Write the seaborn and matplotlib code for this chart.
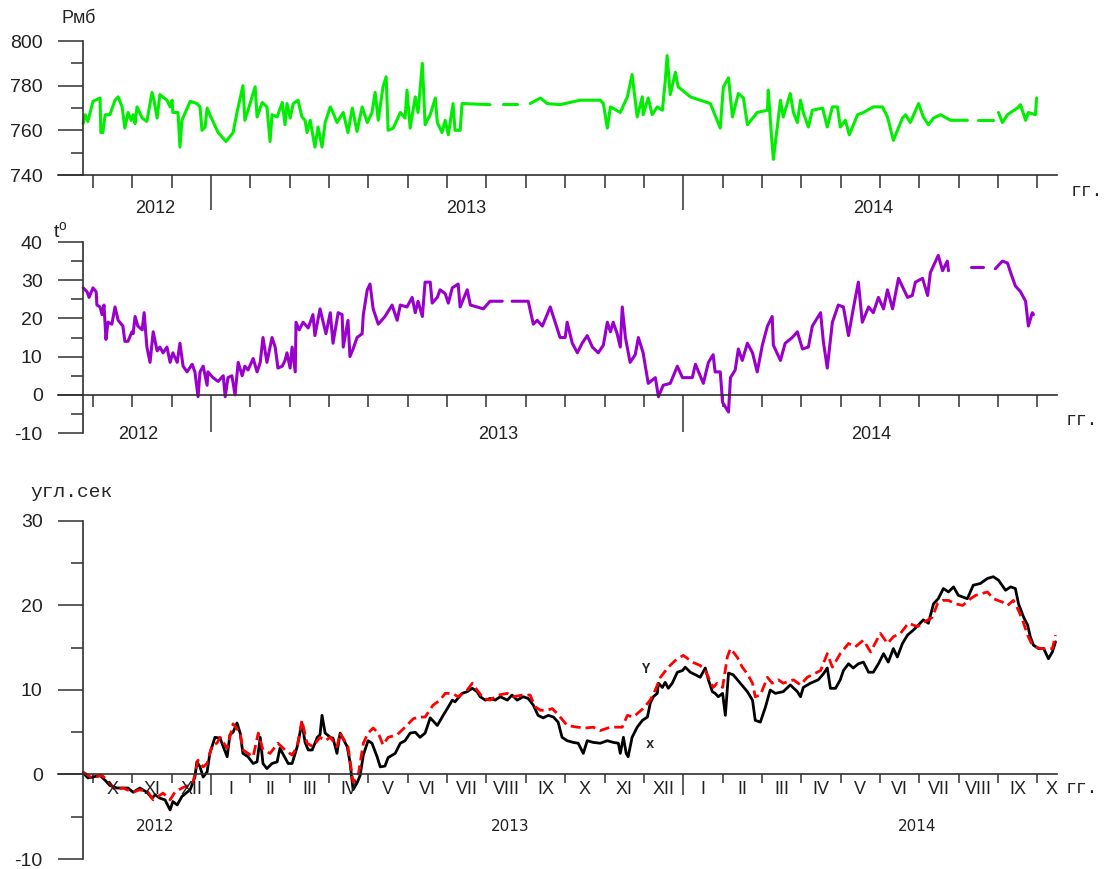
import numpy as np
import pandas as pd
import matplotlib
matplotlib.use("Agg")
import matplotlib.pyplot as plt
import seaborn as sns

# x is in months counted from 1 Oct 2012 (0 = start of X.2012); None = gap in record

# pressure, mb
pres_m = [-0.25, -0.20, -0.13, 0.00, 0.18, 0.20, 0.25, 0.31, 0.43, 0.56,
          0.64, 0.74, 0.81, 0.89, 0.97, 1.02, 1.07, 1.12, 1.25, 1.37,
          1.50, 1.55, 1.63, 1.70, 1.88, 1.96, 2.01, 2.03, 2.16, 2.21,
          2.26, 2.47, 2.64, 2.72, 2.77, 2.85, 2.90, 2.97, 3.18, 3.38,
          3.56, 3.66, 3.81, 3.86, 3.94, 4.12, 4.17, 4.30, 4.42, 4.50,
          4.55, 4.68, 4.81, 4.88, 4.93, 5.01, 5.09, 5.21, 5.31, 5.39,
          5.44, 5.52, 5.64, 5.72, 5.82, 5.90, 6.03, 6.10, 6.20, 6.36,
          6.48, 6.59, 6.71, 6.84, 6.97, 7.09, 7.17, 7.25, 7.37, 7.45,
          7.50, 7.63, 7.81, 7.93, 7.98, 8.06, 8.19, 8.26, 8.37, 8.44,
          8.57, 8.70, 8.75, 8.87, 8.95, 9.03, 9.15, 9.20, 9.33, 9.38,
          10.09, None, 10.42, 10.78, None, 11.11, 11.37, 11.54, 11.87, 12.38,
          12.89, 12.97, 13.07, 13.15, 13.40, 13.58, 13.70, 13.83, 13.96, 13.98,
          14.11, 14.21, 14.34, 14.47, 14.54, 14.59, 14.67, 14.80, 14.87, 15.18,
          15.43, 15.69, 15.94, 16.02, 16.15, 16.25, 16.40, 16.53, 16.63, 16.88,
          17.14, 17.16, 17.24, 17.29, 17.39, 17.47, 17.54, 17.72, 17.80, 17.90,
          17.98, 18.05, 18.18, 18.28, 18.54, 18.66, 18.79, 18.92, 18.99, 19.12,
          19.22, 19.43, 19.58, 19.83, 20.06, 20.19, 20.34, 20.57, 20.65, 20.77,
          20.98, 21.10, 21.23, 21.36, 21.54, 21.79, 22.22, None, 22.48, 22.86,
          None, 23.01, 23.11, 23.24, 23.49, 23.57, 23.70, 23.77, 23.95, 23.98]
pres_v = [763, 767, 764, 773, 774.5, 759, 759, 767, 767, 773.5,
          775, 770.5, 761, 768, 764.5, 767, 763, 770.5, 765.5, 764,
          777, 773.5, 765.5, 776, 773.5, 770.5, 773.5, 768, 768, 752.5,
          764.5, 773, 772, 770.5, 760, 761.5, 770, 767, 759, 755,
          759, 768, 780, 764.5, 769, 779.5, 766, 772.5, 770.5, 755,
          767, 766, 772.5, 762.5, 772, 765.5, 772, 773.5, 766, 764.5,
          759, 764.5, 752.5, 761.5, 752.5, 763.5, 770.5, 768, 763.5, 768,
          759, 770, 759.5, 770.5, 763.5, 768, 777, 764.5, 779.5, 784,
          760, 761, 768, 765.5, 778, 761, 775, 768, 790, 762.5,
          767, 774.5, 763.5, 759, 764.5, 758, 772, 760, 760, 772,
          771.5, None, 772, 772, None, 772, 774.5, 772, 771.5, 773.5,
          773.5, 772, 761, 770.5, 768, 775, 785, 766, 775, 767,
          774.5, 767, 770.5, 769, 781.5, 793.5, 776, 786, 779.5, 775,
          773.5, 772, 761, 779.5, 783.5, 766, 776.5, 774.5, 762.5, 768,
          769, 778, 758, 747, 761.5, 773.5, 766, 776.5, 768, 763.5,
          773.5, 768, 761.5, 769, 770, 761.5, 770.5, 770.5, 761.5, 764.5,
          758, 767, 768, 770.5, 770.5, 766, 755.5, 765.5, 767, 763.5,
          772, 766, 762.5, 765.5, 767, 764.5, 764.5, None, 764.5, 764.5,
          None, 768, 763.5, 767, 770, 771.5, 764.5, 768, 767, 774.5]

# temperature, deg
temp_m = [-0.25, -0.15, -0.10, 0.00, 0.08, 0.10, 0.18, 0.23, 0.28, 0.33,
          0.38, 0.48, 0.56, 0.64, 0.76, 0.81, 0.89, 0.99, 1.02, 1.07,
          1.14, 1.25, 1.30, 1.37, 1.45, 1.53, 1.63, 1.70, 1.78, 1.88,
          1.96, 2.03, 2.14, 2.21, 2.29, 2.39, 2.52, 2.59, 2.67, 2.72,
          2.80, 2.90, 2.92, 3.05, 3.18, 3.31, 3.36, 3.43, 3.53, 3.61,
          3.69, 3.79, 3.86, 3.94, 4.07, 4.17, 4.25, 4.32, 4.42, 4.55,
          4.63, 4.70, 4.81, 4.88, 4.93, 5.01, 5.06, 5.14, 5.16, 5.24,
          5.34, 5.47, 5.59, 5.64, 5.77, 5.85, 5.92, 6.03, 6.10, 6.23,
          6.33, 6.36, 6.48, 6.53, 6.61, 6.71, 6.84, 6.87, 6.97, 7.04,
          7.12, 7.25, 7.42, 7.60, 7.73, 7.81, 7.98, 8.11, 8.19, 8.26,
          8.37, 8.44, 8.57, 8.62, 8.75, 8.82, 8.95, 9.03, 9.13, 9.28,
          9.33, 9.51, 9.59, 9.76, 9.92, 10.09, 10.40, None, 10.65, 11.06,
          11.19, 11.29, 11.42, 11.62, 11.87, 12.00, 12.05, 12.18, 12.31, 12.43,
          12.56, 12.69, 12.84, 12.97, 13.07, 13.15, 13.22, 13.32, 13.40, 13.45,
          13.53, 13.65, 13.78, 13.86, 13.98, 14.11, 14.29, 14.37, 14.49, 14.67,
          14.85, 14.98, 15.23, 15.31, 15.43, 15.51, 15.64, 15.76, 15.81, 15.94,
          16.00, 16.15, 16.20, 16.32, 16.40, 16.50, 16.63, 16.76, 16.88, 17.01,
          17.14, 17.26, 17.29, 17.47, 17.59, 17.77, 17.90, 18.03, 18.18, 18.28,
          18.49, 18.56, 18.66, 18.79, 18.94, 19.07, 19.20, 19.32, 19.45, 19.55,
          19.71, 19.83, 19.96, 20.09, 20.19, 20.32, 20.47, 20.70, 20.82, 20.90,
          21.08, 21.21, 21.28, 21.48, 21.59, 21.71, 21.74, None, 22.30, 22.63,
          None, 22.93, 23.11, 23.24, 23.32, 23.44, 23.57, 23.70, 23.77, 23.87,
          23.90]
temp_v = [28, 27, 25.5, 28, 27, 23.5, 23, 21, 23.5, 14.5,
          19, 18.5, 23, 19.5, 18, 14, 14, 16.5, 16, 20.5,
          18, 17, 21.5, 12.5, 8.5, 16.5, 11.5, 12.5, 11, 12.5,
          8.5, 11, 8.5, 13.5, 7.5, 6, 8, 6, -0.5, 6,
          7.5, 2.5, 6, 4.5, 3.5, 5, -0.5, 4.5, 5, 0,
          8.5, 5, 7.5, 6.5, 9.5, 6, 8.5, 15, 8.5, 15,
          12.5, 7, 7.5, 9, 11, 7, 12.5, 6, 19, 17,
          19, 17.5, 21, 15.5, 22.5, 19, 16, 21.5, 13.5, 21.5,
          21, 12.5, 19.5, 10, 12, 15, 16, 21, 27.5, 29,
          22.5, 18.5, 20.5, 23.5, 19.5, 23.5, 23, 25.5, 21.5, 24.5,
          20.5, 29.5, 29.5, 24, 25.5, 27.5, 26.5, 24, 28, 29,
          23, 27.5, 23.5, 23, 22.5, 24.5, 24.5, None, 24.5, 24.5,
          18.5, 19.5, 18, 23, 15, 15, 19, 13.5, 11, 13.5,
          15.5, 12.5, 11, 13, 19, 16.5, 19, 16, 12.5, 23,
          15, 8.5, 10.5, 15, 11, 3, 4.5, -0.5, 2.5, 3,
          7.5, 4.5, 4.5, 8, 5, 3, 8.5, 10.5, 6, 6,
          -2, -4.5, 4.5, 6.5, 12, 9, 13.5, 11, 6, 13,
          18, 20.5, 13, 9, 13.5, 15, 16.5, 12, 12.5, 18,
          21.5, 14, 7, 19, 23.5, 23, 15.5, 22.5, 29.5, 19,
          23, 21.5, 25.5, 22.5, 27.5, 22.5, 30.5, 25.5, 26, 29.5,
          30.5, 26, 32, 36.5, 32.5, 35, 32.5, None, 33.5, 33.5,
          None, 33, 35, 34.5, 32, 28.5, 27, 24.5, 18, 21.5,
          21]

# tilt, arc seconds: black (solid) series
ang_m = [-0.25, -0.13, 0.00, 0.18, 0.31, 0.43, 0.61, 0.74, 0.89, 1.02,
         1.19, 1.37, 1.50, 1.58, 1.70, 1.83, 1.96, 2.03, 2.14, 2.26,
         2.39, 2.47, 2.59, 2.64, 2.72, 2.80, 2.90, 2.97, 3.10, 3.23,
         3.31, 3.41, 3.48, 3.56, 3.66, 3.74, 3.81, 3.94, 4.07, 4.17,
         4.25, 4.32, 4.42, 4.55, 4.68, 4.75, 4.88, 4.96, 5.06, 5.19,
         5.26, 5.31, 5.39, 5.47, 5.57, 5.70, 5.77, 5.82, 5.90, 6.03,
         6.10, 6.20, 6.28, 6.46, 6.53, 6.61, 6.71, 6.79, 6.87, 6.99,
         7.09, 7.22, 7.30, 7.42, 7.50, 7.68, 7.81, 7.93, 8.06, 8.19,
         8.31, 8.44, 8.57, 8.75, 8.90, 9.03, 9.13, 9.20, 9.38, 9.51,
         9.64, 9.76, 9.84, 9.97, 10.09, 10.22, 10.35, 10.53, 10.65, 10.78,
         10.93, 11.06, 11.19, 11.31, 11.44, 11.57, 11.70, 11.82, 11.92, 12.05,
         12.20, 12.33, 12.46, 12.56, 12.71, 12.89, 13.07, 13.22, 13.35, 13.40,
         13.48, 13.55, 13.60, 13.70, 13.83, 13.96, 14.09, 14.16, 14.24, 14.34,
         14.37, 14.47, 14.54, 14.62, 14.72, 14.85, 14.98, 15.05, 15.18, 15.31,
         15.43, 15.56, 15.64, 15.74, 15.81, 15.89, 16.00, 16.07, 16.15, 16.27,
         16.45, 16.63, 16.76, 16.83, 16.96, 17.09, 17.21, 17.34, 17.54, 17.72,
         17.90, 17.98, 18.05, 18.23, 18.43, 18.56, 18.66, 18.74, 18.87, 18.99,
         19.07, 19.20, 19.32, 19.45, 19.58, 19.71, 19.83, 19.96, 20.09, 20.21,
         20.34, 20.44, 20.57, 20.70, 20.85, 20.98, 21.10, 21.23, 21.36, 21.48,
         21.61, 21.74, 21.87, 21.99, 22.22, 22.37, 22.55, 22.73, 22.88, 23.01,
         23.19, 23.32, 23.44, 23.52, 23.65, 23.75, 23.82, 23.90, 24.03, 24.16,
         24.28, 24.38, 24.46]
ang_v = [0.2, -0.4, -0.3, -0.1, -0.7, -1.3, -1.6, -1.6, -1.6, -2.1,
         -1.6, -2.1, -2.8, -2.4, -2.8, -3.0, -4.2, -3.2, -3.6, -2.6,
         -2.1, -1.8, -0.3, 1.5, 0.9, -0.3, 0.3, 2.5, 4.4, 4.3,
         3.3, 2.1, 4.7, 5.0, 6.1, 4.9, 2.5, 2.1, 1.3, 1.5,
         4.4, 1.3, 0.7, 1.3, 1.5, 3.1, 2.0, 1.3, 1.3, 3.3,
         4.9, 6.1, 3.8, 2.9, 2.9, 4.4, 4.7, 7.0, 4.9, 4.4,
         4.3, 2.5, 4.9, 3.3, 1.5, -1.8, -1.0, -0.1, 2.3, 4.0,
         3.7, 2.1, 0.9, 1.0, 2.0, 2.5, 3.7, 4.0, 4.9, 5.0,
         4.4, 4.9, 6.7, 5.8, 7.0, 8.0, 8.8, 8.6, 9.6, 9.8,
         10.2, 9.8, 9.2, 8.8, 9.0, 8.8, 9.2, 8.8, 9.4, 8.8,
         9.2, 9.0, 8.2, 7.0, 6.7, 7.0, 6.8, 6.2, 4.4, 4.0,
         3.8, 3.7, 2.5, 4.0, 3.8, 3.7, 4.0, 3.8, 3.7, 2.5,
         4.4, 2.5, 2.1, 4.4, 5.6, 6.4, 6.8, 8.4, 9.2, 9.6,
         10.8, 10.3, 10.9, 10.2, 10.8, 12.1, 12.3, 12.7, 12.1, 11.8,
         11.5, 12.6, 11.2, 9.8, 9.6, 9.2, 9.6, 7.0, 12.0, 11.8,
         10.8, 9.8, 8.8, 6.4, 6.2, 8.0, 10.0, 9.6, 9.8, 10.6,
         9.8, 9.2, 10.3, 10.8, 11.2, 11.9, 12.6, 10.2, 10.2, 11.2,
         12.3, 13.1, 12.6, 13.1, 13.3, 12.1, 12.1, 13.1, 14.3, 13.3,
         14.9, 13.9, 15.5, 16.5, 17.1, 17.7, 18.3, 17.9, 20.2, 20.8,
         22.0, 21.6, 22.2, 21.2, 20.8, 22.4, 22.6, 23.2, 23.4, 23.0,
         21.8, 22.2, 22.0, 20.2, 18.6, 17.7, 16.3, 15.3, 14.9, 14.9,
         13.7, 14.5, 15.7]

# tilt, arc seconds: red (dashed) series
red_m = [-0.25, -0.03, 0.23, 0.43, 0.56, 0.76, 1.02, 1.19, 1.40, 1.53,
         1.78, 1.96, 2.08, 2.26, 2.42, 2.54, 2.67, 2.80, 2.90, 3.03,
         3.15, 3.23, 3.41, 3.56, 3.74, 3.81, 4.07, 4.20, 4.32, 4.50,
         4.70, 4.88, 5.06, 5.19, 5.31, 5.44, 5.59, 5.77, 5.90, 6.03,
         6.20, 6.28, 6.48, 6.61, 6.74, 6.87, 6.99, 7.12, 7.25, 7.37,
         7.50, 7.73, 7.93, 8.14, 8.26, 8.44, 8.64, 8.82, 8.95, 9.13,
         9.28, 9.51, 9.64, 9.76, 9.92, 10.09, 10.30, 10.53, 10.68, 10.91,
         11.11, 11.24, 11.37, 11.54, 11.67, 11.80, 12.05, 12.31, 12.51, 12.71,
         12.89, 13.15, 13.35, 13.45, 13.58, 13.73, 13.98, 14.16, 14.29, 14.42,
         14.62, 14.80, 15.00, 15.23, 15.43, 15.56, 15.76, 15.86, 16.00, 16.12,
         16.20, 16.37, 16.50, 16.63, 16.76, 16.83, 16.96, 17.14, 17.26, 17.42,
         17.54, 17.80, 17.98, 18.15, 18.49, 18.66, 18.79, 18.99, 19.20, 19.37,
         19.58, 19.76, 20.01, 20.19, 20.34, 20.52, 20.72, 20.95, 21.15, 21.33,
         21.46, 21.59, 21.74, 21.92, 22.10, 22.30, 22.43, 22.73, 22.88, 23.11,
         23.24, 23.39, 23.52, 23.62, 23.75, 23.87, 24.06, 24.38, 24.46]
red_v = [0.3, -0.4, -0.1, -1.0, -1.8, -1.6, -2.1, -1.8, -2.1, -3.0,
         -2.2, -3.0, -2.1, -1.6, -1.3, -1.0, 1.7, 0.9, 1.3, 3.5,
         3.7, 4.4, 3.1, 6.0, 4.9, 2.9, 2.1, 4.9, 2.9, 2.5,
         3.7, 2.9, 2.3, 3.3, 6.4, 3.7, 3.3, 4.4, 4.0, 4.4,
         3.3, 4.9, 3.3, -0.9, -0.1, 3.7, 4.9, 5.5, 4.9, 3.5,
         4.4, 4.7, 5.6, 6.6, 6.8, 6.8, 8.2, 8.8, 9.6, 9.6,
         9.2, 10.0, 10.8, 10.0, 9.0, 8.8, 9.4, 9.6, 9.2, 9.4,
         9.4, 8.0, 7.6, 7.6, 7.8, 7.2, 5.8, 5.6, 5.5, 5.6,
         5.2, 5.6, 5.6, 5.6, 7.0, 6.8, 7.8, 8.8, 10.0, 11.5,
         12.7, 13.5, 14.1, 13.3, 12.9, 12.3, 10.3, 10.8, 10.3, 13.9,
         14.9, 13.9, 12.7, 11.9, 10.8, 9.2, 9.4, 11.5, 10.8, 11.2,
         10.8, 11.2, 10.6, 11.5, 12.3, 14.3, 12.7, 14.3, 15.5, 15.1,
         15.9, 14.5, 16.7, 15.5, 16.3, 16.7, 17.9, 17.5, 18.1, 18.6,
         20.2, 20.6, 20.6, 20.2, 20.0, 20.8, 21.2, 21.6, 20.8, 20.4,
         20.0, 20.6, 19.4, 18.3, 16.5, 15.3, 14.9, 14.9, 16.5]

month_names = ["X", "XI", "XII", "I", "II", "III", "IV", "V", "VI", "VII", "VIII", "IX",
               "X", "XI", "XII", "I", "II", "III", "IV", "V", "VI", "VII", "VIII", "IX", "X"]
years = ["2012", "2013", "2014"]
year_starts = [3, 15]

AX_COL = "#303030"
XLIM = (-0.89, 24.5)
Y_AXIS_AT = -0.254


def to_frame(xs, ys):
    df = pd.DataFrame({"x": xs, "y": ys}, dtype=float)
    df["seg"] = df["y"].isna().cumsum()
    return df.dropna()


def setup(ax, ylim, yticks, yminor, axis_y, xmin_len, xmaj_len):
    ax.set_xlim(*XLIM)
    ax.set_ylim(*ylim)
    ax.patch.set_visible(False)
    ax.spines["top"].set_visible(False)
    ax.spines["right"].set_visible(False)
    ax.spines["left"].set_position(("data", Y_AXIS_AT))
    ax.spines["bottom"].set_position(("data", axis_y))
    for s in ["left", "bottom"]:
        ax.spines[s].set_color(AX_COL)
        ax.spines[s].set_linewidth(1.2)
    ax.set_yticks(yticks)
    ax.set_yticklabels([str(t) for t in yticks])
    ax.set_yticks(yminor, minor=True)
    ax.set_xticks(year_starts)
    ax.set_xticks([m for m in range(25) if m not in year_starts], minor=True)
    ax.set_xticklabels([])
    ax.tick_params(which="both", left=True, bottom=True, top=False, right=False,
                   direction="out")
    ax.tick_params(axis="y", which="major", length=18, width=1.1, pad=11,
                   labelsize=14, color=AX_COL, labelcolor="#222222")
    ax.tick_params(axis="y", which="minor", length=8.6, width=1.1, color=AX_COL)
    ax.tick_params(axis="x", which="minor", length=xmin_len, width=1.1, color=AX_COL)
    ax.tick_params(axis="x", which="major", length=xmaj_len, width=1.1, color=AX_COL)
    ax.set_xlabel("")
    ax.set_ylabel("")


sns.set_style("ticks")
plt.rcParams["font.family"] = ["Liberation Sans", "DejaVu Sans"]
plt.rcParams["mathtext.fontset"] = "custom"
plt.rcParams["mathtext.rm"] = "Liberation Sans"

fig = plt.figure(figsize=(11.04, 8.69), dpi=100)
ax1 = fig.add_axes([0.0525, 0.7986, 0.905, 0.1542])
ax2 = fig.add_axes([0.0525, 0.5017, 0.905, 0.2198])
ax3 = fig.add_axes([0.0525, 0.0115, 0.905, 0.3890])

# pressure
sns.lineplot(data=to_frame(pres_m, pres_v), x="x", y="y", units="seg", estimator=None,
             color="#00ee00", linewidth=2.2, ax=ax1)
setup(ax1, (740, 800), [740, 760, 780, 800], [750, 770, 790], 740, 9.4, 25)
ax1.text(-0.79, 810.3, "Рмб", fontsize=13, va="center", ha="left", color="#222222")
ax1.text(24.84, 732.8, "гг.", fontsize=13, family="Liberation Mono", va="center", ha="left")
for lab, xp in zip(years, [1.58, 9.48, 19.83]):
    ax1.text(xp, 725.2, lab, fontsize=13, ha="center", va="center", color="#222222")

# temperature
sns.lineplot(data=to_frame(temp_m, temp_v), x="x", y="y", units="seg", estimator=None,
             color="#9900cc", linewidth=2.2, ax=ax2)
setup(ax2, (-10, 40), [-10, 0, 10, 20, 30, 40], [-5, 5, 15, 25, 35], 0, 8.6, 26.6)
ax2.text(-1.02, 42.7, r"t$^{\rm o}$", fontsize=14, va="center", ha="left", color="#222222")
ax2.text(24.71, -6.8, "гг.", fontsize=13, family="Liberation Mono", va="center", ha="left")
for lab, xp in zip(years, [1.15, 10.3, 19.78]):
    ax2.text(xp, -10.5, lab, fontsize=13, ha="center", va="center", color="#222222")

# tilt
sns.lineplot(data=to_frame(ang_m, ang_v), x="x", y="y", estimator=None,
             color="black", linewidth=2.0, ax=ax3)
sns.lineplot(data=to_frame(red_m, red_v), x="x", y="y", estimator=None,
             color="#ff0000", linewidth=2.0, linestyle=(0, (3.6, 1.8)), ax=ax3)
setup(ax3, (-10, 30), [-10, 0, 10, 20, 30], [-5, 5, 15, 25], 0, 6.5, 15)
ax3.text(-1.6, 33.4, "угл.сек", fontsize=14, family="Liberation Mono", va="center", ha="left")
ax3.text(24.71, -1.7, "гг.", fontsize=13, family="Liberation Mono", va="center", ha="left")
for i, lab in enumerate(month_names):
    ax3.text(min(i + 0.5, 24.35), -1.75, lab, fontsize=13, ha="center", va="center", color="#222222")
for lab, xp in zip(years, [1.58, 10.6, 20.95]):
    ax3.text(xp, -6.2, lab, fontsize=11, family="DejaVu Sans", ha="center", va="center", color="#222222")
ax3.text(14.04, 12.45, "Y", fontsize=10, family="Liberation Mono", weight="bold", ha="center", va="center")
ax3.text(14.16, 3.6, "x", fontsize=10, family="Liberation Mono", weight="bold", ha="center", va="center")

fig.savefig("out.png", dpi=100)
